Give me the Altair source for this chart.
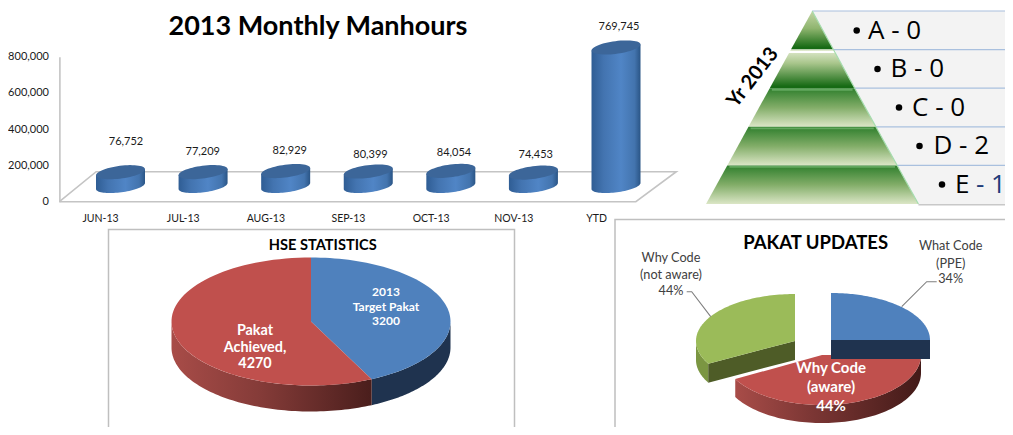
import numpy as np
import pandas as pd
import altair as alt

# ---- data ----
months = ["JUN-13", "JUL-13", "AUG-13", "SEP-13", "OCT-13", "NOV-13", "YTD"]
manhours = [76752, 77209, 82929, 80399, 84054, 74453, 769745]
y_ticks = [0, 200000, 400000, 600000, 800000]
levels = ["A", "B", "C", "D", "E"]
level_counts = [0, 0, 0, 2, 1]
hse_names = ["2013 Target Pakat", "Pakat Achieved"]
hse_values = [3200, 4270]
pakat_names = ["What Code (PPE)", "Why Code (aware)", "Why Code (not aware)"]
pakat_slices = [25, 42, 33]   # drawn slice sizes
pakat_labels = [34, 44, 44]   # printed labels

FONT = "Lato"
OFF = 8
layers = []


def sx(a, b, lo, hi):
    return alt.Scale(domain=[a, b], range=[lo - OFF, hi - OFF], nice=False, zero=False)


def sy(a, b, bottom, top):
    return alt.Scale(domain=[a, b], range=[bottom - OFF, top - OFF], nice=False, zero=False)


def poly(df, xs, ys, fill, stroke="transparent", width=0):
    layers.append(
        alt.Chart(df).mark_line(fill=fill, stroke=stroke, strokeWidth=width, interpolate="linear")
        .encode(
            x=alt.X("x:Q", scale=xs, axis=None),
            y=alt.Y("y:Q", scale=ys, axis=None),
            order=alt.Order("i:Q"),
            detail="g:N",
        )
    )


def path(df, xs, ys, color, width=1.0):
    layers.append(
        alt.Chart(df).mark_line(stroke=color, strokeWidth=width)
        .encode(
            x=alt.X("x:Q", scale=xs, axis=None),
            y=alt.Y("y:Q", scale=ys, axis=None),
            order=alt.Order("i:Q"),
            detail="g:N",
        )
    )


def frame(x, y, g=0):
    return pd.DataFrame({"x": x, "y": y, "i": np.arange(len(x)), "g": g})


def label(text, x, y, size, color="#000000", weight="normal", angle=0, align="center", font=FONT):
    shift = 1.5 if font == FONT else 0
    layers.append(
        alt.Chart(pd.DataFrame({"t": [text]})).mark_text(
            x=x - OFF, y=y - OFF + shift, fontSize=size, color=color, fontWeight=weight,
            angle=angle, align=align, baseline="middle", font=font,
        ).encode(text="t:N")
    )


def hgrad(stops):
    return {"gradient": "linear", "x1": 0, "y1": 0, "x2": 1, "y2": 0,
            "stops": [{"offset": o, "color": c} for o, c in stops]}


def vgrad(stops):
    return {"gradient": "linear", "x1": 0, "y1": 0, "x2": 0, "y2": 1,
            "stops": [{"offset": o, "color": c} for o, c in stops]}


# ---- panels' frames ----
for left, right, top in [(108.5, 514.5, 229.5), (615, 1030, 219.5)]:
    layers.append(
        alt.Chart(pd.DataFrame({"a": [0]})).mark_rect(fill="white", stroke="#bfbfbf", strokeWidth=1.5)
        .encode(x=alt.value(left - OFF), x2=alt.value(right - OFF), y=alt.value(top - OFF), y2=alt.value(470))
    )

# ---- cylinder chart ----
label("2013 Monthly Manhours", 318, 25, 27, weight="bold")

X_CYL = sx(0, 6, 120.5, 616)
Y_FLOOR = sy(0, 800000, 201.7, 56.7)
Y_CYL = sy(0, 800000, 186, 42)
PX = 800000 / 144.0
HW = 24.5 / 82.58

floor_x = [-0.74, 6.24, 6.73, -0.295, -0.74]
floor_y = [0, 0, 165500, 165500, 0]
path(frame(floor_x, floor_y), X_CYL, Y_FLOOR, "#c4c4c4", 1.6)


def cyl_ellipse(i, v, t):
    return i + HW * np.cos(t), v + PX * (3.0 * np.cos(t) + 6.4 * np.sin(t))


t_low = np.linspace(np.pi, 2 * np.pi, 40)
t_all = np.linspace(0, 2 * np.pi, 60)
body, tops = [], []
for i, v in enumerate(manhours):
    xb, yb = cyl_ellipse(i, 0, t_low)
    xr, yr = cyl_ellipse(i, v, np.array([0.0]))
    xl, yl = cyl_ellipse(i, v, np.array([np.pi]))
    body.append(frame(list(xb) + list(xr) + list(xl), list(yb) + list(yr) + list(yl), i))
    xt, yt = cyl_ellipse(i, v, t_all)
    tops.append(frame(xt, yt, i))
poly(pd.concat(body), X_CYL, Y_CYL,
     hgrad([(0, "#2f5d94"), (0.25, "#4374b0"), (0.6, "#5085c6"), (0.88, "#4374ae"), (1, "#2a5586")]))
poly(pd.concat(tops), X_CYL, Y_CYL, "#3c6699")

layers.append(
    alt.Chart(pd.DataFrame({"m": months, "v": (y_ticks + [0, 0])[:7]})).mark_point(opacity=0).encode(
        x=alt.X("m:N", sort=months,
                scale=alt.Scale(type="point", domain=months, range=[100 - OFF, 596 - OFF], padding=0),
                axis=alt.Axis(title=None, orient="bottom", offset=-213.5, ticks=False, domain=False,
                              labelPadding=0, labelFont=FONT, labelFontSize=10.5, labelAngle=0,
                              labelColor="#1a1a1a", grid=False)),
        y=alt.Y("v:Q", scale=Y_FLOOR,
                axis=alt.Axis(title=None, orient="left", offset=-51.4, values=y_ticks,
                              labelExpr="format(datum.value, ',')",
                              ticks=False, grid=False, domainColor="#c4c4c4", domainWidth=1.6,
                              labelPadding=11, labelFont=FONT, labelFontSize=11, labelColor="#1a1a1a")),
    )
)
lab_x = [126, 202.7, 289.7, 370.5, 454, 535.7, 619]
lab_y = [140.7, 150.7, 149, 153.3, 151.7, 153.3, 25]
for v, x, y in zip(manhours, lab_x, lab_y):
    label(f"{v:,}", x, y, 11, color="#1a1a1a")

# ---- pyramid ----
X_PYR = sx(-1, 1, 706, 918.4)
Y_PYR = sy(0, 5, 11, 204)
n = len(levels)
rows = [frame([(k) / n, 2.0, 2.0, (k + 1) / n], [k, k, k + 1, k + 1], k) for k in range(n)]
poly(pd.concat(rows), X_PYR, Y_PYR, "#f3f3f3")
path(pd.concat([frame([k / n, 2.0], [k, k], k) for k in range(n)]), X_PYR, Y_PYR, "#a9c0de", 1.2)
path(frame([1.0, 2.0], [5.02, 5.02]), X_PYR, Y_PYR, "#c8c8c8", 1.5)

dark = "#166a14"
light = "#dbe6c6"
pyr_grads = [
    [(0, "#c3d6a6"), (0.45, "#8fb56f"), (0.95, dark), (1, dark)],
    [(0, "#e2ebd0"), (0.35, "#a9c68c"), (0.95, dark), (1, dark)],
    [(0, "#2f7f2d"), (0.5, "#82ad68"), (1, light)],
    [(0, "#2f7f2d"), (0.5, "#82ad68"), (1, light)],
    [(0, "#2f7f2d"), (0.5, "#82ad68"), (1, light)],
]
for k in range(n):
    a, b = k / n, (k + 1) / n
    poly(frame([-a, a, b, -b], [k, k, k + 1, k + 1]), X_PYR, Y_PYR, vgrad(pyr_grads[k]))
# highlights on top of the steps
path(frame([-0.22, 0.22], [1.06, 1.06]), X_PYR, Y_PYR, "#ffffff", 2)
path(pd.concat([frame([-(k / n) + 0.02, k / n - 0.02], [k + 0.04, k + 0.04], k) for k in (2, 3, 4)]),
     X_PYR, Y_PYR, "#63a85f", 1.8)
path(frame([0.0, 1.0], [0, 5]), X_PYR, Y_PYR, "#a5dcae", 1.2)

bul_x = [856.7, 877.5, 899, 919.5, 942]
txt_x = [868, 890.5, 912, 933.5, 955]
row_y = [30.5, 69, 107.5, 146, 184.5]
for k in range(n):
    layers.append(
        alt.Chart(pd.DataFrame({"l": [levels[k]]})).mark_point(
            x=bul_x[k] - OFF, y=row_y[k] - OFF, filled=True, size=42, color="#000000", opacity=1
        ).encode(detail="l:N")
    )
    if k < 4:
        label(f"{levels[k]} - {level_counts[k]}", txt_x[k], row_y[k], 26, align="left", font="Open Sans")
    else:
        label(levels[k], txt_x[k], row_y[k], 26, align="left", font="Open Sans")
        label(f"- {level_counts[k]}", 976, row_y[k], 26, color="#1f3d7a", align="left", font="Open Sans")
label("Yr 2013", 753, 76, 20, weight="bold", angle=308)


# ---- pseudo-3D pies ----
def arc(a, b, k=80):
    t = np.radians(np.linspace(a, b, k))
    return np.sin(t), np.cos(t)


def sector(a, b, g=0):
    u, v = arc(a, b)
    return frame([0.0] + list(u), [0.0] + list(v), g)


def wall(a, b, drop, g=0):
    u, v = arc(a, b)
    return frame(list(u) + list(u[::-1]), list(v) + list(v[::-1] - drop), g)


def cut(a, drop, g=0):
    u, v = arc(a, a, 1)
    return frame([0.0, u[0], u[0], 0.0], [0.0, v[0], v[0] - drop, -drop], g)


# HSE
hse_x = sx(-1, 1, 171.5, 450.5)
hse_y = sy(-1, 1, 385.5, 257.5)
hse_drop = 26 / 64.0
hse_end = 360 * hse_values[0] / sum(hse_values)
poly(wall(90, hse_end, hse_drop), hse_x, hse_y, "#1f334f")
poly(wall(hse_end, 270, hse_drop), hse_x, hse_y,
     hgrad([(0, "#a84c48"), (0.45, "#843b38"), (1, "#4a1e1c")]))
poly(sector(0, hse_end), hse_x, hse_y, "#4f81bd")
poly(sector(hse_end, 360), hse_x, hse_y, "#c0504d")
label("HSE STATISTICS", 322.7, 244.5, 14.6, weight="bold")
for t, y in zip(["2013", "Target Pakat", f"{hse_values[0]}"], [290, 305, 319]):
    label(t, 386, y, 12, color="white", weight="bold")
for t, y in zip(["Pakat", "Achieved,", f"{hse_values[1]}"], [329.5, 346.5, 362]):
    label(t, 255, y, 14.4, color="white", weight="bold")

# PAKAT
total = sum(pakat_slices)
ends = np.cumsum(pakat_slices) * 360.0 / total
pk_drop = 19 / 47.0

red_x = sx(-1, 1, 723, 921)
red_y = sy(-1, 1, 405, 305)
poly(wall(90, ends[1], 18 / 50.0), red_x, red_y,
     hgrad([(0, "#a84c48"), (0.4, "#7d3735"), (1, "#431a18")]))
poly(sector(90, ends[1]), red_x, red_y, "#c0504d")

blue_x = sx(-1, 1, 732, 930)
blue_y = sy(-1, 1, 387, 293)
poly(frame([0, 1, 1, 0], [0, 0, -pk_drop, -pk_drop]), blue_x, blue_y, "#1f334f")
poly(sector(0, 90), blue_x, blue_y, "#4f81bd")

green_x = sx(-1, 1, 696, 894)
green_y = sy(-1, 1, 388, 294)
poly(wall(ends[1], 270, pk_drop), green_x, green_y, "#7b9642")
poly(cut(ends[1], pk_drop), green_x, green_y, "#4e5c27")
poly(sector(ends[1], 360), green_x, green_y, "#9bbb59")

for t, y in zip(["Why Code", "(aware)", f"{pakat_labels[1]}%"], [366, 385, 404]):
    label(t, 831, y, 15, color="white", weight="bold")
label("PAKAT UPDATES", 815.7, 241.7, 18.5, weight="bold")
for t, y in zip(["What Code", "(PPE)", f"{pakat_labels[0]}%"], [244.5, 262, 277.5]):
    label(t, 950.7, y, 12.7, color="#404040")
for t, y in zip(["Why Code", "(not aware)", f"{pakat_labels[2]}%"], [256, 273, 289]):
    label(t, 671, y, 12.7, color="#404040")

# leader lines, in the unit coordinates of each slice's own scale
u1 = [(901.7 - 831) / 99, (926.7 - 831) / 99, (936.7 - 831) / 99]
v1 = [(340 - 306.7) / 47, (340 - 281.7) / 47, (340 - 281.7) / 47]
path(frame(u1, v1), blue_x, blue_y, "#7f7f7f", 1.1)
u2 = [(686.7 - 795) / 99, (691.7 - 795) / 99, (710.7 - 795) / 99]
v2 = [(341 - 291.7) / 47, (341 - 291.7) / 47, (341 - 316.7) / 47]
path(frame(u2, v2), green_x, green_y, "#7f7f7f", 1.1)

chart = (
    alt.layer(*layers)
    .resolve_scale(x="independent", y="independent")
    .resolve_axis(x="independent", y="independent")
    .properties(width=997, height=419, padding=0, autosize=alt.AutoSizeParams(type="none"),
                background="white")
    .configure_view(strokeWidth=0)
)
chart.save("out.html", embed_options={"renderer": "svg", "actions": False})
